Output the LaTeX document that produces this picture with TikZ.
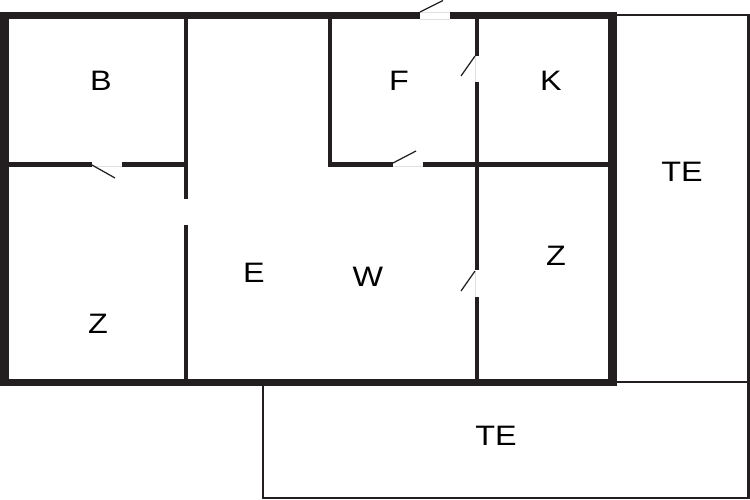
\documentclass[tikz,border=0pt]{standalone}
\usepackage{fontspec}
\usepackage{xcolor}
\setmainfont[FakeStretch=1.15]{Liberation Sans}
\definecolor{wallink}{HTML}{231F20}
\begin{document}
\begin{tikzpicture}[scale=0.2]
\tikzstyle{every node}+=[inner sep=0pt,font=\fontsize{16}{18}\selectfont,text=black]
\tikzstyle{outerwall}=[draw=wallink,line width=4.2pt]
\tikzstyle{sidewall}=[draw=wallink,line width=4.9pt]
\tikzstyle{innerwall}=[draw=wallink,line width=2.4pt]
\tikzstyle{terrace}=[draw=wallink,line width=1.2pt]
\tikzstyle{doorleaf}=[draw=wallink,line width=0.7pt]
\tikzstyle{doorgap}=[draw=black!12,line width=0.5pt]
\useasboundingbox (0,0) rectangle (75,-50);
\fill [white] (0,0) rectangle (75,-50);
% terraces
\draw [terrace] (61.7,-1.5) -- (74.85,-1.5) -- (74.85,-49.8) -- (26.3,-49.8) -- (26.3,-38.6);
\draw [terrace] (61.7,-38.2) -- (74.85,-38.2);
% inner walls
\draw [innerwall] (18.6,-1.5) -- (18.6,-19.9);
\draw [innerwall] (18.6,-22.45) -- (18.6,-38.2);
\draw [innerwall] (33,-1.5) -- (33,-16.63);
\draw [innerwall] (47.7,-1.5) -- (47.7,-5.6);
\draw [innerwall] (47.7,-8.2) -- (47.7,-27);
\draw [innerwall] (47.7,-29.7) -- (47.7,-38.2);
\draw [innerwall] (0.4,-16.45) -- (9.2,-16.45);
\draw [innerwall] (12.2,-16.45) -- (18.6,-16.45);
\draw [innerwall] (32.8,-16.45) -- (39.3,-16.45);
\draw [innerwall] (42.3,-16.45) -- (61.2,-16.45);
% outer walls
\draw [outerwall] (0,-1.55) -- (42,-1.55);
\draw [outerwall] (45,-1.55) -- (61.7,-1.55);
\draw [outerwall] (0,-38.25) -- (61.7,-38.25);
\draw [sidewall] (0.45,-1.2) -- (0.45,-38.6);
\draw [sidewall] (61.25,-1.2) -- (61.25,-38.6);
% doors
\draw [doorgap] (42,-1.2) -- (45,-1.2);
\draw [doorgap] (42,-1.9) -- (45,-1.9);
\draw [doorleaf] (42,-1.2) -- (44.3,-0.05);
\draw [doorgap] (47.5,-5.6) -- (47.5,-8.2);
\draw [doorleaf] (47.5,-5.6) -- (46.1,-7.6);
\draw [doorgap] (47.5,-27.1) -- (47.5,-29.7);
\draw [doorleaf] (47.5,-27.1) -- (46.1,-29.1);
\draw [doorgap] (39.3,-16.65) -- (42.3,-16.65);
\draw [doorleaf] (39.3,-16.3) -- (41.6,-15.1);
\draw [doorgap] (9.2,-16.65) -- (12.2,-16.65);
\draw [doorleaf] (9.2,-16.5) -- (11.5,-17.8);
% room labels
\node (bed) at (10.1,-8.05) {B};
\node (food) at (39.9,-8.05) {F};
\node (kitchen) at (55.1,-8.05) {K};
\node (teright) at (68.2,-17.15) {TE};
\node (zright) at (55.6,-25.55) {Z};
\node (zleft) at (9.8,-32.4) {Z};
\node (entry) at (25.4,-27.25) {E};
\node (wohnen) at (36.8,-27.65) {W};
\node (tebottom) at (49.6,-43.6) {TE};
\end{tikzpicture}
\end{document}
